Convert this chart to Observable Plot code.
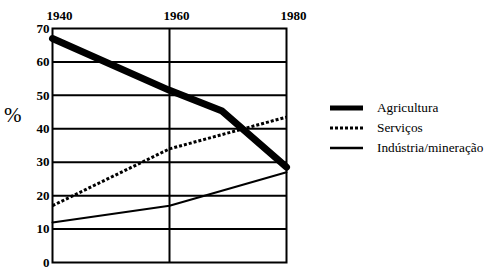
<!DOCTYPE html>
<html>
<head>
<meta charset="utf-8">
<script src="https://cdn.jsdelivr.net/npm/d3@7"></script>
<script src="https://cdn.jsdelivr.net/npm/@observablehq/plot@0.6"></script>
<style>
  html, body { margin: 0; padding: 0; background: #fff; }
  #wrap { position: relative; width: 488px; height: 273px; font-family: "Liberation Serif", serif; }
  #ylab { position: absolute; left: 4px; top: 103px; font-size: 21px; line-height: 24px; color: #000; }
  #legend { position: absolute; left: 330px; top: 98px; font-size: 13.3px; color: #000; }
  .item { display: flex; align-items: center; height: 20px; }
  .item svg { margin-right: 14px; }
</style>
</head>
<body>
<div id="wrap"><div id="ylab">%</div><div id="legend"></div></div>
<script>
const xTicks = [1940, 1960, 1980];
const yTicks = [0, 10, 20, 30, 40, 50, 60, 70];
const seriesNames = ["Agricultura", "Serviços", "Indústria/mineração"];
const agrYears = [1940, 1960, 1969, 1980];
const agrValues = [67, 51.5, 45.3, 28.5];
const servYears = [1940, 1960, 1980];
const servValues = [17, 34, 43.5];
const indYears = [1940, 1960, 1980];
const indValues = [12, 17, 27];

const styles = [
  {strokeWidth: 5, dash: null},
  {strokeWidth: 3, dash: "3,2"},
  {strokeWidth: 2.5, dash: null}
];

const agr = agrYears.map((x, i) => ({x, y: agrValues[i]}));
const serv = servYears.map((x, i) => ({x, y: servValues[i]}));
const ind = indYears.map((x, i) => ({x, y: indValues[i]}));

const chart = Plot.plot({
  width: 488,
  height: 273,
  marginLeft: 52,
  marginRight: 202,
  marginTop: 28,
  marginBottom: 11,
  style: {background: "transparent", fontFamily: "Liberation Serif, serif"},
  x: {domain: [1940, 1980], axis: null},
  y: {domain: [0, 70], axis: null},
  marks: [
    Plot.ruleY(yTicks.filter(d => d > 0 && d < 70), {stroke: "#000", strokeWidth: 2}),
    Plot.ruleX([1960], {stroke: "#000", strokeWidth: 2}),
    Plot.frame({stroke: "#000", strokeWidth: 2}),
    Plot.axisY(yTicks, {anchor: "left", tickSize: 0, tickPadding: 3, fontSize: 13, fontWeight: "bold", label: null}),
    Plot.axisX(xTicks, {anchor: "top", tickSize: 0, tickPadding: 9, dx: 7, fontSize: 13, fontWeight: "bold", tickFormat: d => String(d), label: null}),
    Plot.line(ind, {x: "x", y: "y", stroke: "#000", strokeWidth: 2}),
    Plot.line(serv, {x: "x", y: "y", stroke: "#000", strokeWidth: 3, strokeDasharray: "3 2", strokeLinecap: "butt"}),
    Plot.line(agr, {x: "x", y: "y", stroke: "#000", strokeWidth: 7, strokeLinejoin: "round"})
  ]
});
chart.style.position = "absolute";
chart.style.left = "0";
chart.style.top = "0";
document.getElementById("wrap").prepend(chart);

const legend = document.getElementById("legend");
seriesNames.forEach((name, i) => {
  const s = styles[i];
  const item = document.createElement("div");
  item.className = "item";
  item.innerHTML = `<svg width="33" height="10"><line x1="0" x2="33" y1="5" y2="5" stroke="#000" stroke-width="${s.strokeWidth}" ${s.dash ? `stroke-dasharray="${s.dash}"` : ""}/></svg><span>${name}</span>`;
  legend.appendChild(item);
});
</script>
</body>
</html>
